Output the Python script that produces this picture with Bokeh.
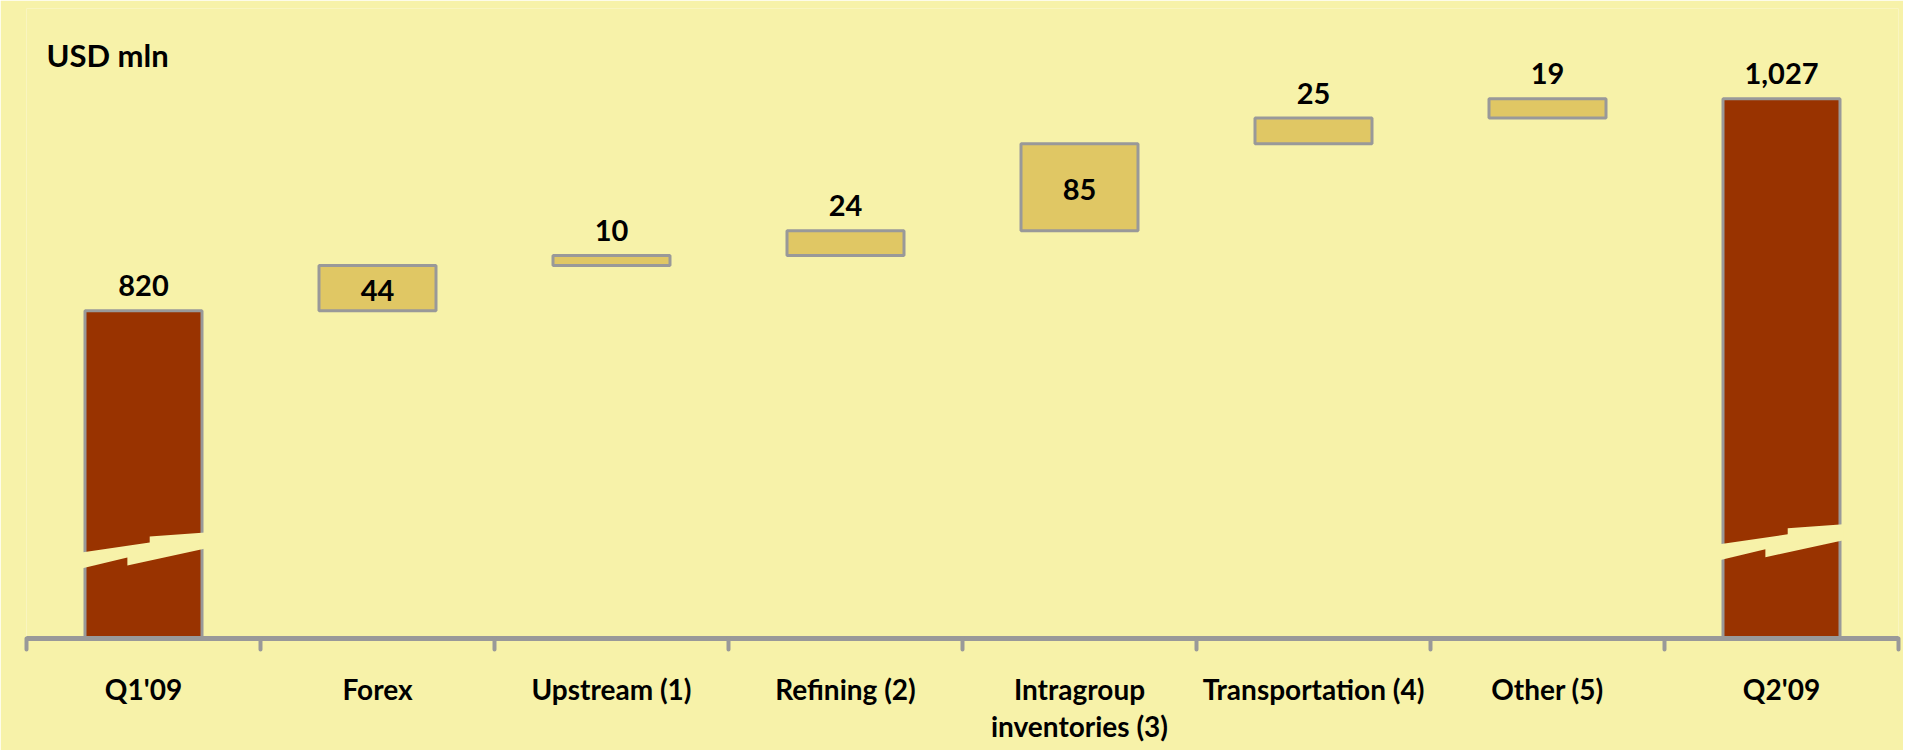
from bokeh.plotting import figure
from bokeh.models import Range1d, FixedTicker, ColumnDataSource, Label
from bokeh.core.properties import value
from bokeh.embed import file_html
from bokeh.resources import INLINE

# ---------------- data ----------------
categories = ["Q1'09", "Forex", "Upstream (1)", "Refining (2)",
              "Intragroup\ninventories (3)", "Transportation (4)", "Other (5)", "Q2'09"]
amounts = [820, 44, 10, 24, 85, 25, 19, 1027]
is_total = [True, False, False, False, False, False, False, True]
axis_floor = 500          # value axis is broken: bars start at 500
axis_ceiling = 1115
break_levels = [584, None, None, None, None, None, None, 592]
unit_label = "USD mln"

# ---------------- styles ----------------
BG = "#F7F2A9"
TOTAL = "#993300"
DELTA = "#E0C764"
EDGE = "#999999"
FONT = "Lato"

FRAME_W, FRAME_H = 1872, 630

# waterfall geometry from the data
bottoms, tops, xs, texts, lab_y, lab_base, lab_off = [], [], [], [], [], [], []
running = 0
for i, (v, tot) in enumerate(zip(amounts, is_total)):
    if tot:
        b, t = axis_floor, v
        running = v
    else:
        b, t = running, running + v
        running = t
    bottoms.append(b)
    tops.append(t)
    xs.append(i + 0.5)
    texts.append(f"{v:,}")
    if (not tot) and v >= 40:
        lab_y.append((b + t) / 2.0)
        lab_base.append("middle")
        lab_off.append(2)
    else:
        lab_y.append(t)
        lab_base.append("alphabetic")
        lab_off.append(-25)

colors = [TOTAL if t else DELTA for t in is_total]
src = ColumnDataSource(dict(x=xs, bottom=bottoms, top=tops, color=colors,
                            text=texts, ly=lab_y, base=lab_base, off=lab_off))

p = figure(frame_width=FRAME_W, frame_height=FRAME_H,
           x_range=Range1d(0, len(categories)),
           y_range=Range1d(axis_floor, axis_ceiling),
           y_axis_location=None, toolbar_location=None, output_backend="svg",
           min_border_left=26, min_border_right=5, min_border_top=8, min_border_bottom=112)
p.background_fill_color = BG
p.border_fill_color = BG
p.outline_line_color = None
p.xgrid.visible = False
p.ygrid.visible = False

p.vbar(x="x", bottom="bottom", top="top", width=0.5, fill_color="color",
       line_color=EDGE, line_width=3, source=src)

# axis-break marks on the total bars
units_per_px = (axis_ceiling - axis_floor) / FRAME_H
xf = [0, 0.55, 0.55, 1, 1, 0.37, 0.37, 0]
yp = [0, 10, 16, 20, 4, -13, -5, -16]
bx, by = [], []
for i, lvl in enumerate(break_levels):
    if lvl is None:
        continue
    left, w = xs[i] - 0.265, 0.53
    bx.append([left + f * w for f in xf])
    by.append([lvl + d * units_per_px for d in yp])
p.patches(bx, by, fill_color=BG, line_color=None)

# value labels
p.text(x="x", y="ly", text="text", source=src, text_align="center",
       text_baseline="base", y_offset="off", text_font=value(FONT),
       text_font_style="bold", text_font_size="29px", text_color="black")

p.add_layout(Label(x=0.085, y=1070, text=unit_label, text_font=FONT,
                   text_font_style="bold", text_font_size="31px",
                   text_color="black", text_baseline="alphabetic"))

ax = p.xaxis[0]
ax.ticker = FixedTicker(ticks=xs, minor_ticks=list(range(len(categories) + 1)))
ax.major_label_overrides = {x: c for x, c in zip(xs, categories)}
ax.axis_line_color = EDGE
ax.axis_line_width = 5
ax.major_tick_line_color = None
ax.major_tick_out = 0
ax.major_tick_in = 0
ax.minor_tick_line_color = EDGE
ax.minor_tick_line_width = 4
ax.minor_tick_line_cap = "round"
ax.minor_tick_out = 11
ax.minor_tick_in = 0
ax.major_label_standoff = 22
ax.major_label_text_font = FONT
ax.major_label_text_font_style = "bold"
ax.major_label_text_font_size = "28px"
ax.major_label_text_color = "black"
ax.major_label_text_line_height = 1.1

open("out.html", "w").write(file_html(p, INLINE))
